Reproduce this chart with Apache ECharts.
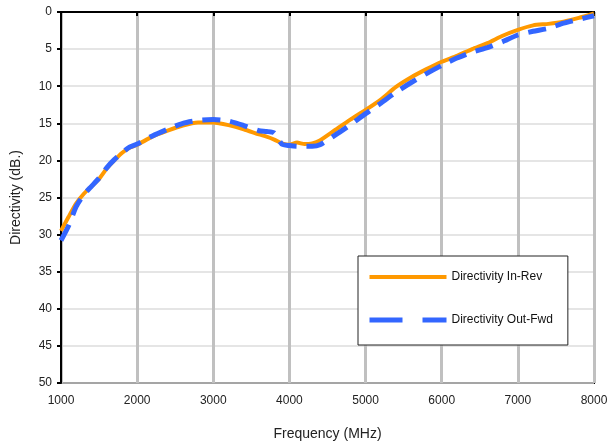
<!DOCTYPE html>
<html>
<head>
<meta charset="utf-8">
<script src="https://cdn.jsdelivr.net/npm/echarts@6/dist/echarts.min.js"></script>
<style>html,body{margin:0;padding:0;background:#fff}#c{width:611px;height:443px}</style>
</head>
<body>
<div id="c"></div>
<script>
const freqMHz = [1000,1100,1200,1300,1400,1500,1600,1700,1800,1900,2000,2200,2400,2600,2800,3000,3200,3400,3600,3700,3800,3900,4000,4100,4200,4300,4400,4600,4800,5000,5200,5400,5600,5800,6000,6200,6400,6600,6800,7000,7200,7400,7600,7800,8000];
const inRev = [29.5,27.6,25.8,24.5,23.5,22.5,21.1,20.0,19.0,18.3,17.9,16.8,16.0,15.3,14.9,14.9,15.25,15.8,16.5,16.8,17.2,17.7,17.9,17.6,17.8,17.7,17.3,15.9,14.5,13.2,11.8,10.1,8.8,7.7,6.7,5.9,5.0,4.2,3.2,2.4,1.8,1.6,1.3,0.8,0.2];
const outFwd = [30.8,28.8,26.2,24.6,23.5,22.4,21.0,19.9,19.0,18.2,17.8,16.7,15.8,15.0,14.6,14.5,14.7,15.3,16.0,16.1,16.3,17.8,18.0,18.1,18.1,18.1,17.9,16.6,15.2,13.7,12.3,10.8,9.5,8.3,7.2,6.2,5.4,4.8,4.0,3.1,2.6,2.2,1.5,1.0,0.5];
const seriesNames = ['Directivity In-Rev','Directivity Out-Fwd'];
const xTitle = 'Frequency (MHz)';
const yTitle = 'Directivity (dB.)';

const pair = (xs, ys) => xs.map((x, i) => [x, ys[i]]);
const font = 'Liberation Sans, Arial, sans-serif';
const chart = echarts.init(document.getElementById('c'), null, {renderer: 'canvas'});
chart.setOption({
  animation: false,
  backgroundColor: '#fff',
  grid: {left: 61, right: 17, top: 12, bottom: 60, containLabel: false, outerBoundsMode: 'none',
         show: true, borderColor: '#000', borderWidth: 2, backgroundColor: 'transparent'},
  xAxis: {
    type: 'value', min: 1000, max: 8000, interval: 1000,
    name: xTitle, nameLocation: 'middle', nameGap: 44,
    nameTextStyle: {fontFamily: font, fontSize: 14, color: '#222'},
    axisLine: {show: true, lineStyle: {color: '#000', width: 2}},
    axisTick: {show: true, length: 4, lineStyle: {color: '#000', width: 2}},
    axisLabel: {fontFamily: font, fontSize: 12, color: '#222', margin: 12, formatter: v => String(v)},
    splitLine: {show: true, lineStyle: {color: '#c0c0c0', width: 3}}
  },
  yAxis: {
    type: 'value', min: 0, max: 50, interval: 5, inverse: true,
    name: yTitle, nameLocation: 'middle', nameGap: 38, nameRotate: 90,
    nameTextStyle: {fontFamily: font, fontSize: 14, color: '#222'},
    axisLine: {show: true, lineStyle: {color: '#000', width: 2}},
    axisTick: {show: true, length: 4, lineStyle: {color: '#000', width: 2}},
    axisLabel: {fontFamily: font, fontSize: 12, color: '#222', margin: 9, formatter: v => String(v)},
    splitLine: {show: true, lineStyle: {color: '#dcdcdc', width: 1.5}}
  },
  legend: {
    orient: 'vertical', left: 358, top: 256,
    data: [
      {name: seriesNames[0], lineStyle: {color: '#FF9900', width: 4}},
      {name: seriesNames[1], lineStyle: {color: '#3366FF', width: 5, type: [33, 20]}}
    ],
    itemWidth: 77, itemHeight: 14, itemGap: 31,
    padding: [15, 15, 19, 9],
    itemStyle: {opacity: 0},
    backgroundColor: '#fff', borderColor: '#222', borderWidth: 1,
    textStyle: {fontFamily: font, fontSize: 12, color: '#111'}
  },
  series: [
    {name: seriesNames[0], type: 'line', data: pair(freqMHz, inRev), symbol: 'none', smooth: 0.2,
     lineStyle: {color: '#FF9900', width: 4}, itemStyle: {color: '#FF9900'}, z: 2},
    {name: seriesNames[1], type: 'line', data: pair(freqMHz, outFwd), symbol: 'none', smooth: 0.2,
     lineStyle: {color: '#3366FF', width: 5, type: [18, 10]}, itemStyle: {color: '#3366FF'}, z: 3}
  ]
});
</script>
</body>
</html>
